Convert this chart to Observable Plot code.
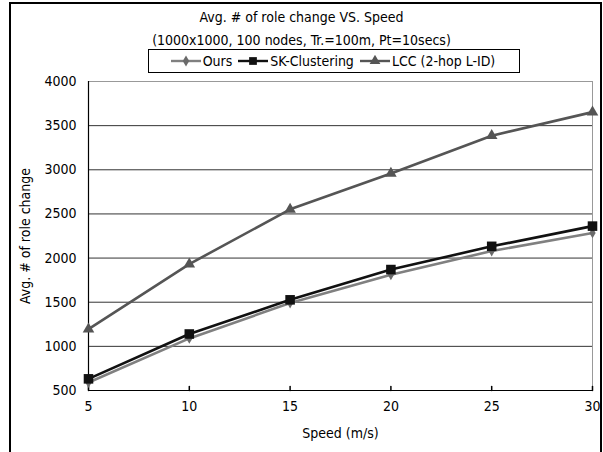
<!DOCTYPE html>
<html><head><meta charset="utf-8">
<script src="https://cdn.jsdelivr.net/npm/d3@7"></script>
<script src="https://cdn.jsdelivr.net/npm/@observablehq/plot@0.6"></script>
<style>
body{margin:0;background:#fff;overflow:hidden}
#wrap{position:relative;width:603px;height:452px;overflow:hidden;font-family:"DejaVu Sans Condensed","DejaVu Sans",sans-serif;color:#000}
#border{position:absolute;left:9px;top:2px;width:593px;height:470px;border:2px solid #000;box-sizing:border-box}
.t{position:absolute;left:0;width:603px;text-align:center;font-size:14px;line-height:16px;white-space:nowrap}
#legend{position:absolute;left:148px;top:49px;width:372px;height:24px;border:1px solid #000;box-sizing:border-box;display:flex;align-items:center;justify-content:center;gap:2px;font-size:14px;white-space:nowrap;background:#fff}
#legend span.item{display:flex;align-items:center;gap:1px;margin-right:3px}
#chart{position:absolute;left:0;top:0}
#chart svg text{font-size:14px !important;font-family:"DejaVu Sans Condensed","DejaVu Sans",sans-serif !important}
</style></head><body>
<div id="wrap">
  <div id="chart"></div>
  <div id="border"></div>
  <div class="t" style="top:9px">Avg. # of role change VS. Speed</div>
  <div class="t" style="top:32px">(1000x1000, 100 nodes, Tr.=100m, Pt=10secs)</div>
  <div id="legend"></div>
</div>
<script>
const speeds = [5, 10, 15, 20, 25, 30];
const ours = [590, 1090, 1490, 1810, 2080, 2285];
const sk = [632, 1140, 1527, 1870, 2133, 2362];
const lcc = [1195, 1932, 2552, 2958, 3386, 3653];
const yTicks = [500, 1000, 1500, 2000, 2500, 3000, 3500, 4000];
const seriesNames = ["Ours", "SK-Clustering", "LCC (2-hop L-ID)"];

const styles = {
  "Ours": {stroke: "#808080", fill: "#6a6a6a", symbol: "diamond", r: 3.3},
  "SK-Clustering": {stroke: "#111", fill: "#111", symbol: "square", r: 5.4},
  "LCC (2-hop L-ID)": {stroke: "#555", fill: "#555", symbol: "triangle", r: 4.3}
};
const valuesBy = {"Ours": ours, "SK-Clustering": sk, "LCC (2-hop L-ID)": lcc};
const rows = seriesNames.flatMap(s => speeds.map((x, i) => ({series: s, speed: x, value: valuesBy[s][i]})));

const font = `"DejaVu Sans Condensed","DejaVu Sans",sans-serif`;
const marks = [
  Plot.gridY(yTicks.filter(d => d > 500 && d < 4000), {stroke: "#333", strokeOpacity: 1}),
  Plot.ruleY([4000], {stroke: "#999"}),
  Plot.ruleX([30], {stroke: "#999"}),
  Plot.axisY(yTicks, {tickSize: 0, tickPadding: 12, tickFormat: d3.format("d")}),
  Plot.axisX(speeds, {tickSize: 0, tickPadding: 11, tickFormat: d3.format("d")}),
  Plot.vector(speeds, {x: d => d, y: () => 500, length: 4, rotate: 0, anchor: "start", stroke: "#000",
    shape: {draw(ctx, l) { ctx.moveTo(0, 0); ctx.lineTo(0, -l); }}}),
  Plot.ruleX([5], {stroke: "#000", strokeWidth: 1.2}),
  Plot.ruleY([500], {stroke: "#000", strokeWidth: 1.2}),
  Plot.text(["Speed (m/s)"], {frameAnchor: "bottom", dy: 47}),
  Plot.text(["Avg. # of role change"], {frameAnchor: "left", dx: -63, rotate: -90, textAnchor: "middle"})
];
for (const s of seriesNames) {
  const st = styles[s];
  const data = rows.filter(d => d.series === s);
  marks.push(Plot.line(data, {x: "speed", y: "value", stroke: st.stroke, strokeWidth: 2.6}));
}
for (const s of seriesNames) {
  const st = styles[s];
  const data = rows.filter(d => d.series === s);
  marks.push(Plot.dot(data, {x: "speed", y: "value", symbol: () => st.symbol, fill: st.fill, r: st.r, stroke: "none"}));
}

const chart = Plot.plot({
  width: 603, height: 452,
  marginLeft: 88, marginRight: 11, marginTop: 81, marginBottom: 62,
  style: {fontFamily: font, fontSize: "14px", color: "#000", background: "transparent", overflow: "visible"},
  x: {domain: [5, 30], label: null},
  y: {domain: [500, 4000], label: null},
  symbol: {type: "identity"},
  marks
});
document.getElementById("chart").appendChild(chart);

// legend
const legend = document.getElementById("legend");
const symPath = {
  diamond: d3.symbol(d3.symbolDiamond, 36)(),
  square: d3.symbol(d3.symbolSquare, 60)(),
  triangle: d3.symbol(d3.symbolTriangle, 50)()
};
for (const s of seriesNames) {
  const st = styles[s];
  const item = document.createElement("span");
  item.className = "item";
  item.innerHTML = `<svg width="32" height="12"><line x1="1" x2="31" y1="6" y2="6" stroke="${st.stroke}" stroke-width="2.4"/><path transform="translate(16,6)" d="${symPath[st.symbol]}" fill="${st.fill}"/></svg><span>${s}</span>`;
  legend.appendChild(item);
}
</script>
</body></html>
